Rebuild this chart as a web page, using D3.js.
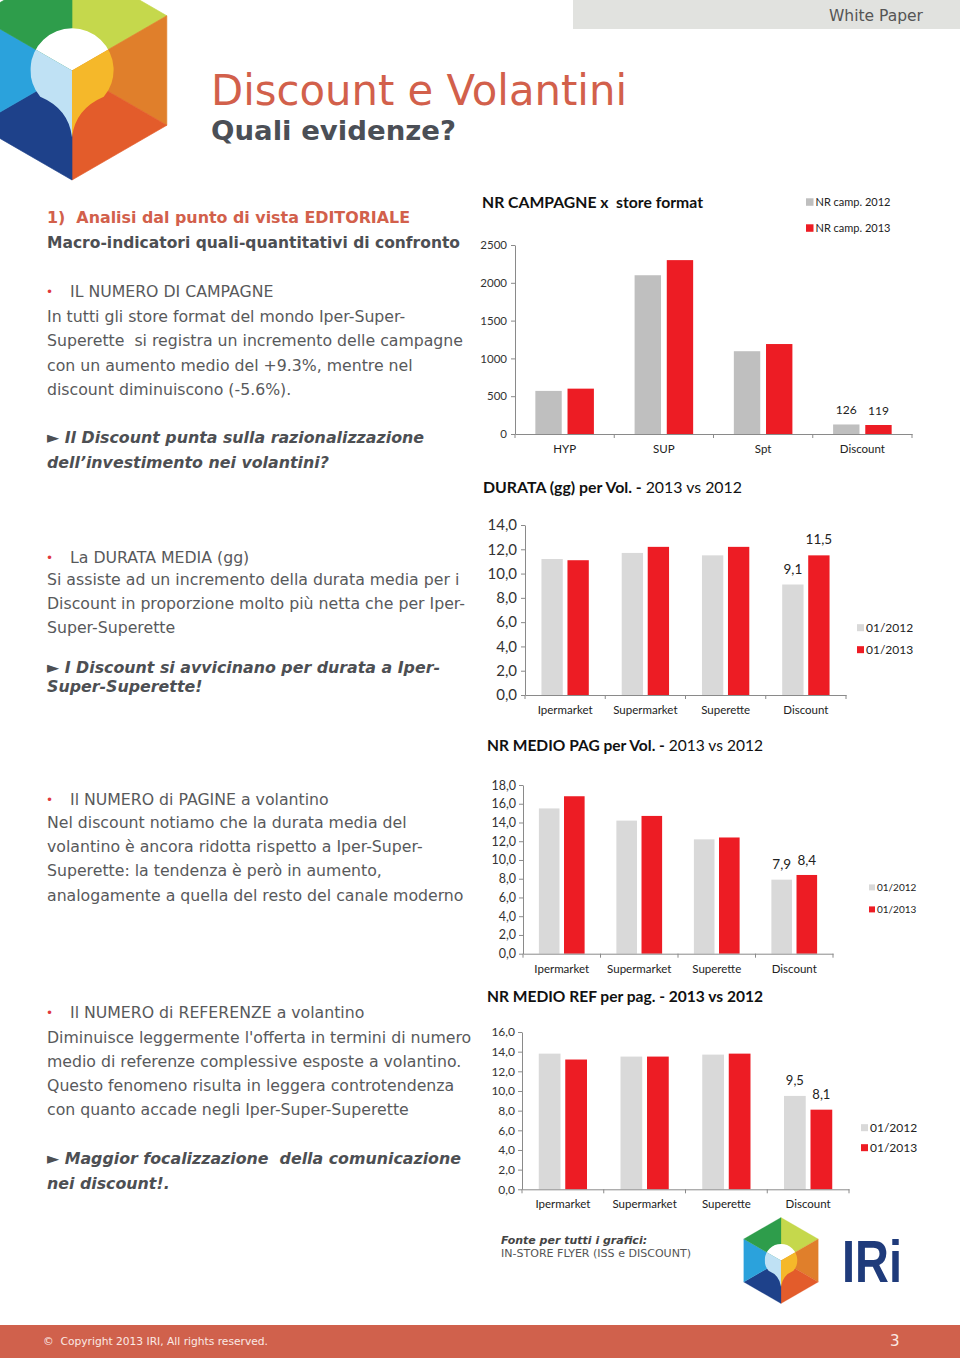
<!DOCTYPE html>
<html>
<head>
<meta charset="utf-8">
<script src="https://cdn.jsdelivr.net/npm/d3@7"></script>
<style>
body { margin: 0; background: #fff; }
svg { display: block; }
text { white-space: pre; }
</style>
</head>
<body>
<svg id="page" width="960" height="1358"></svg>
<script>
// chart data
const campCats = ['HYP', 'SUP', 'Spt', 'Discount'];
const campSeries = ['NR camp. 2012', 'NR camp. 2013'];
const camp2012 = [570, 2100, 1095, 126];
const camp2013 = [600, 2300, 1190, 119];
const campTicks = [0, 500, 1000, 1500, 2000, 2500];

const storeCats = ['Ipermarket', 'Supermarket', 'Superette', 'Discount'];
const periodSeries = ['01/2012', '01/2013'];

const durata2012 = [11.2, 11.7, 11.5, 9.1];
const durata2013 = [11.1, 12.2, 12.2, 11.5];
const durataTicks = [0, 2, 4, 6, 8, 10, 12, 14];

const pag2012 = [15.5, 14.2, 12.2, 7.9];
const pag2013 = [16.8, 14.7, 12.4, 8.4];
const pagTicks = [0, 2, 4, 6, 8, 10, 12, 14, 16, 18];

const ref2012 = [13.8, 13.5, 13.7, 9.5];
const ref2013 = [13.2, 13.5, 13.8, 8.1];
const refTicks = [0, 2, 4, 6, 8, 10, 12, 14, 16];

const svg = d3.select('#page');
const sans = "'DejaVu Sans', Verdana, sans-serif";
const chartFont = "Lato, 'Open Sans', sans-serif";
const red = '#ed1c24';
const coral = '#d2604b';
const comma1 = d => d3.format('.1f')(d).replace('.', ',');

// ---------- header ----------
svg.append('rect').attr('x', 573).attr('y', 0).attr('width', 387).attr('height', 29).attr('fill', '#e1e2df');
svg.append('text').attr('x', 923).attr('y', 21).attr('text-anchor', 'end')
    .style('font-family', sans).style('font-size', '15px').attr('fill', '#555')
    .attr('textLength', 94).attr('lengthAdjust', 'spacingAndGlyphs')
    .text('White Paper');

function drawLogo(cx, cy, s, id) {
    const g = svg.append('g').attr('transform', `translate(${cx},${cy}) scale(${s})`);
    const h = 86.6;
    const V = [[0, -100], [h, -50], [h, 50], [0, 100], [-h, 50], [-h, -50]];
    const cols = ['#c5d84c', '#e07f2b', '#e35c2b', '#1e418a', '#2ba2dc', '#2e9d4b'];
    V.forEach((v, i) => {
        const w = V[(i + 1) % 6];
        g.append('path').attr('d', `M0,0L${v}L${w}Z`)
            .attr('fill', cols[i]).attr('stroke', cols[i]).attr('stroke-width', 0.6);
    });
    const pin = 'M0,61 Q-3,35 -29,24 A38,38 0 1 1 29,24 Q3,35 0,61 Z';
    g.append('clipPath').attr('id', id).append('path').attr('d', pin);
    const pg = g.append('g').attr('clip-path', `url(#${id})`);
    pg.append('path').attr('d', 'M0,0L-60,-34.6L-60,-60L60,-60L60,-34.6Z').attr('fill', '#ffffff');
    pg.append('path').attr('d', 'M0,0L-60,-34.6L-60,70L0,70Z').attr('fill', '#bfe1f4');
    pg.append('path').attr('d', 'M0,0L60,-34.6L60,70L0,70Z').attr('fill', '#f5b82a');
}
drawLogo(72, 70.5, 1.095, 'pinA');

svg.append('text').attr('x', 211).attr('y', 105)
    .style('font-family', sans).style('font-size', '42px').attr('fill', coral)
    .attr('textLength', 416).attr('lengthAdjust', 'spacingAndGlyphs')
    .text('Discount e Volantini');
svg.append('text').attr('x', 211).attr('y', 140)
    .style('font-family', sans).style('font-size', '27px').style('font-weight', 'bold').attr('fill', '#4b4f56')
    .attr('textLength', 245).attr('lengthAdjust', 'spacingAndGlyphs')
    .text('Quali evidenze?');

// ---------- left column text ----------
function line(x, y, str, cls) {
    const t = svg.append('text').attr('x', x).attr('y', y).attr('class', cls)
        .style('font-family', sans).style('font-size', '16px').text(str);
    if (cls === 'body') t.attr('fill', '#58595b');
    if (cls === 'bi') t.attr('fill', '#4d4f53').style('font-weight', 'bold').style('font-style', 'italic');
    if (cls === 'hred') t.attr('fill', coral).style('font-weight', 'bold');
    if (cls === 'hgray') t.attr('fill', '#4d4f53').style('font-weight', 'bold');
    return t;
}
function bullet(y, str) {
    svg.append('text').attr('x', 46).attr('y', y - 1).style('font-family', sans)
        .style('font-size', '12px').attr('fill', '#e0393e').text('•');
    line(70, y, str, 'body');
}
function para(y0, lead, lines, cls) {
    lines.forEach((s, i) => line(47, y0 + i * lead, s, cls));
}

line(47, 223, '1)  Analisi dal punto di vista EDITORIALE', 'hred');
line(47, 248, 'Macro-indicatori quali-quantitativi di confronto', 'hgray');

bullet(297, 'IL NUMERO DI CAMPAGNE');
para(322, 24.3, [
    'In tutti gli store format del mondo Iper-Super-',
    'Superette  si registra un incremento delle campagne',
    'con un aumento medio del +9.3%, mentre nel',
    'discount diminuiscono (-5.6%).'
], 'body');
para(443, 24.5, [
    '\u25BA Il Discount punta sulla razionalizzazione',
    'dell\u2019investimento nei volantini?'
], 'bi');

bullet(563, 'La DURATA MEDIA (gg)');
para(585, 24, [
    'Si assiste ad un incremento della durata media per i',
    'Discount in proporzione molto più netta che per Iper-',
    'Super-Superette'
], 'body');
para(673, 19, [
    '\u25BA I Discount si avvicinano per durata a Iper-',
    'Super-Superette!'
], 'bi');

bullet(805, 'Il NUMERO di PAGINE a volantino');
para(828, 24.2, [
    'Nel discount notiamo che la durata media del',
    'volantino è ancora ridotta rispetto a Iper-Super-',
    'Superette: la tendenza è però in aumento,',
    'analogamente a quella del resto del canale moderno'
], 'body');

bullet(1018, 'Il NUMERO di REFERENZE a volantino');
para(1042.5, 24.2, [
    'Diminuisce leggermente l\'offerta in termini di numero',
    'medio di referenze complessive esposte a volantino.',
    'Questo fenomeno risulta in leggera controtendenza',
    'con quanto accade negli Iper-Super-Superette'
], 'body');
para(1164, 24.5, [
    '\u25BA Maggior focalizzazione  della comunicazione',
    'nei discount!.'
], 'bi');

// squeeze each text class to the width of one reference line
function fit(cls, refStr, width) {
    const sel = svg.selectAll('text.' + cls);
    const ref = sel.filter(function () { return this.textContent === refStr; }).node();
    const f = width / ref.getComputedTextLength();
    sel.each(function () {
        const w = this.getComputedTextLength();
        d3.select(this).attr('textLength', w * f).attr('lengthAdjust', 'spacingAndGlyphs');
    });
}
fit('body', 'Superette  si registra un incremento delle campagne', 416);
fit('bi', '\u25BA Il Discount punta sulla razionalizzazione', 377);
fit('hred', '1)  Analisi dal punto di vista EDITORIALE', 363);
fit('hgray', 'Macro-indicatori quali-quantitativi di confronto', 413);

// ---------- charts ----------
function barChart(o) {
    const g = svg.append('g');
    const x = d3.scaleBand().domain(o.cats).range([o.left, o.right])
        .paddingInner(0.41).paddingOuter(0.205);
    const xs = d3.scaleBand().domain([0, 1]).range([0, x.bandwidth()]).paddingInner(0.18);
    const y = d3.scaleLinear().domain([0, o.max]).range([o.bottom, o.top]);
    const series = [o.s1, o.s2];
    const colors = [o.gray, red];

    // title
    const tt = g.append('text').attr('x', o.tx).attr('y', o.ty)
        .style('font-family', chartFont).style('font-size', '15px').attr('fill', '#111')
        .attr('textLength', o.tw).attr('lengthAdjust', 'spacingAndGlyphs');
    o.title.forEach(p => tt.append('tspan').style('font-weight', p.b ? 'bold' : 'normal').text(p.t));

    // bars
    o.cats.forEach((c, i) => {
        series.forEach((s, k) => {
            g.append('rect')
                .attr('x', x(c) + xs(k))
                .attr('y', y(s[i]))
                .attr('width', xs.bandwidth())
                .attr('height', o.bottom - y(s[i]))
                .attr('fill', colors[k]);
        });
    });

    // value labels on the Discount bars
    const di = o.cats.length - 1;
    series.forEach((s, k) => {
        g.append('text')
            .attr('x', x(o.cats[di]) + xs(k) + xs.bandwidth() / 2)
            .attr('y', y(s[di]) - o.labGap[k])
            .attr('text-anchor', 'middle')
            .style('font-family', chartFont).style('font-size', o.labFont + 'px').attr('fill', '#222')
            .text(o.fmt(s[di]));
    });

    // y axis
    const ya = g.append('g').attr('transform', `translate(${o.left},0)`)
        .call(d3.axisLeft(y).tickValues(o.ticks).tickSize(4).tickSizeOuter(0)
            .tickPadding(o.yPad).tickFormat(o.fmt));
    ya.selectAll('path, line').attr('stroke', '#8a8a8a');
    ya.selectAll('text').style('font-family', chartFont).style('font-size', o.yFont + 'px').attr('fill', '#333');

    // x axis
    const xa = g.append('g').attr('transform', `translate(0,${o.bottom})`)
        .call(d3.axisBottom(x).tickSize(0).tickSizeOuter(0));
    xa.select('.domain').attr('stroke', '#8a8a8a');
    xa.selectAll('text').attr('y', 19).attr('dy', null)
        .style('font-family', chartFont).style('font-size', o.xFont + 'px').attr('fill', '#222');
    d3.range(o.cats.length + 1).forEach(i => {
        const px = o.left + i * x.step();
        xa.append('line').attr('x1', px).attr('x2', px).attr('y1', 0).attr('y2', 4).attr('stroke', '#8a8a8a');
    });

    // legend
    o.names.forEach((n, k) => {
        const ly = o.legY[k];
        g.append('rect').attr('x', o.legX).attr('y', ly - o.legFont * 0.36 - o.sq / 2)
            .attr('width', o.sq).attr('height', o.sq).attr('fill', colors[k]);
        g.append('text').attr('x', o.legX + o.sq + 2).attr('y', ly)
            .style('font-family', chartFont).style('font-size', o.legFont + 'px').attr('fill', '#222')
            .text(n);
    });
}

barChart({
    cats: campCats, s1: camp2012, s2: camp2013, names: campSeries, ticks: campTicks, max: 2500,
    left: 515, right: 912, top: 245, bottom: 434, gray: '#bfbfbf', fmt: d3.format('d'),
    title: [{ t: 'NR CAMPAGNE x  store format', b: true }], tx: 482, ty: 208, tw: 221,
    yFont: 11.5, yPad: 4, xFont: 11.5, labFont: 12, labGap: [10, 10],
    legX: 806, legY: [206, 232], sq: 7.5, legFont: 11
});

barChart({
    cats: storeCats, s1: durata2012, s2: durata2013, names: periodSeries, ticks: durataTicks, max: 14,
    left: 525, right: 846, top: 525, bottom: 695, gray: '#d9d9d9', fmt: comma1,
    title: [{ t: 'DURATA (gg) per Vol. - ', b: true }, { t: '2013 vs 2012', b: false }], tx: 483, ty: 493, tw: 259,
    yFont: 15, yPad: 4, xFont: 11.5, labFont: 13.5, labGap: [11, 11],
    legX: 857, legY: [632, 654], sq: 7, legFont: 12
});

barChart({
    cats: storeCats, s1: pag2012, s2: pag2013, names: periodSeries, ticks: pagTicks, max: 18,
    left: 523, right: 833, top: 785, bottom: 953.7, gray: '#d9d9d9', fmt: comma1,
    title: [{ t: 'NR MEDIO PAG per Vol. - ', b: true }, { t: '2013 vs 2012', b: false }], tx: 487, ty: 751, tw: 276,
    yFont: 12.5, yPad: 3, xFont: 11.5, labFont: 13.5, labGap: [11, 10],
    legX: 869, legY: [891, 913], sq: 6, legFont: 10
});

barChart({
    cats: storeCats, s1: ref2012, s2: ref2013, names: periodSeries, ticks: refTicks, max: 16,
    left: 522, right: 849, top: 1032, bottom: 1189.3, gray: '#d9d9d9', fmt: comma1,
    title: [{ t: 'NR MEDIO REF per pag. - 2013 vs 2012', b: true }], tx: 487, ty: 1002, tw: 276,
    yFont: 12, yPad: 3, xFont: 11.5, labFont: 13, labGap: [11, 11],
    legX: 861, legY: [1132, 1152], sq: 7, legFont: 12
});

// ---------- source + bottom logo ----------
svg.append('text').attr('x', 501).attr('y', 1244)
    .style('font-family', sans).style('font-size', '11px').style('font-weight', 'bold').style('font-style', 'italic')
    .attr('fill', '#444').text('Fonte per tutti i grafici:');
svg.append('text').attr('x', 501).attr('y', 1256.5)
    .style('font-family', sans).style('font-size', '11px').attr('fill', '#555')
    .attr('textLength', 190).attr('lengthAdjust', 'spacingAndGlyphs')
    .text('IN-STORE FLYER (ISS e DISCOUNT)');

drawLogo(781, 1260.5, 0.43, 'pinB');
svg.append('text').attr('x', 842).attr('y', 1282)
    .style('font-family', "'Liberation Sans', Arial, sans-serif").style('font-size', '60px').style('font-weight', 'bold')
    .attr('fill', '#1f3b7b').attr('textLength', 60).attr('lengthAdjust', 'spacingAndGlyphs')
    .text('IRi');

// ---------- footer ----------
svg.append('rect').attr('x', 0).attr('y', 1325).attr('width', 960).attr('height', 33).attr('fill', '#d0614c');
svg.append('text').attr('x', 43).attr('y', 1345)
    .style('font-family', sans).style('font-size', '11px').attr('fill', '#fbe9e4')
    .attr('textLength', 225).attr('lengthAdjust', 'spacingAndGlyphs')
    .text('©  Copyright 2013 IRI, All rights reserved.');
svg.append('text').attr('x', 890).attr('y', 1346)
    .style('font-family', sans).style('font-size', '15px').attr('fill', '#fbe9e4')
    .text('3');
</script>
</body>
</html>
